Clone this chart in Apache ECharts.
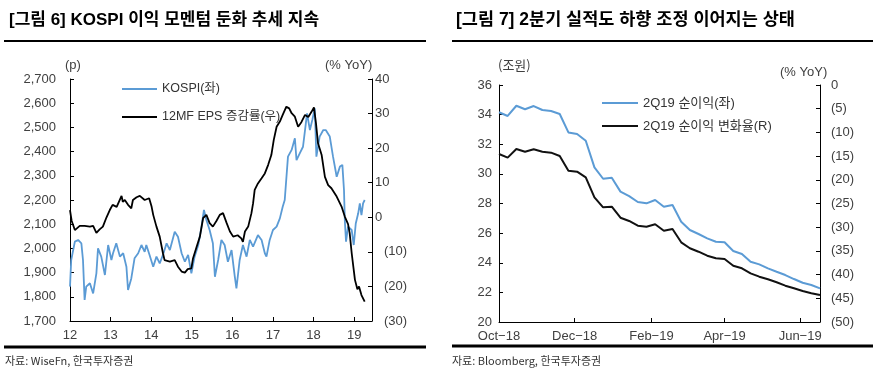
<!DOCTYPE html>
<html>
<head>
<meta charset="utf-8">
<script src="https://cdn.jsdelivr.net/npm/echarts@6/dist/echarts.min.js"></script>
<style>
html,body{margin:0;padding:0;background:#fff;}
#c{width:879px;height:385px;}
</style>
</head>
<body>
<div id="c"></div>
<script>
// ---------- Left chart data (decimal years) ----------
var kospiX = [2012.00,2012.03,2012.12,2012.20,2012.28,2012.32,2012.36,2012.40,2012.49,2012.57,2012.65,2012.69,2012.77,2012.86,2012.94,
2013.02,2013.06,2013.14,2013.23,2013.31,2013.39,2013.43,2013.51,2013.59,2013.68,2013.76,2013.84,2013.88,2013.96,
2014.05,2014.13,2014.21,2014.29,2014.38,2014.46,2014.58,2014.66,2014.75,2014.83,2014.91,2014.99,
2015.07,2015.16,2015.24,2015.30,2015.36,2015.44,2015.52,2015.57,2015.65,2015.73,2015.81,2015.89,2015.98,
2016.06,2016.10,2016.18,2016.26,2016.35,2016.43,2016.51,2016.63,2016.72,2016.80,2016.84,2016.92,
2017.00,2017.09,2017.17,2017.24,2017.29,2017.37,2017.46,2017.54,2017.58,2017.66,2017.74,2017.79,2017.84,2017.91,2017.97,
2018.03,2018.07,2018.15,2018.24,2018.30,2018.40,2018.48,2018.57,2018.65,2018.71,2018.75,2018.77,2018.80,2018.85,2018.94,2018.99,
2019.04,2019.10,2019.14,2019.18,2019.22,2019.26];
var kospiValues = [1842,1952,2028,2035,2021,1952,1787,1842,1856,1814,1897,2000,1966,1890,2014,
1952,1980,2021,1966,1980,1924,1828,1876,1959,1980,2014,1986,2014,1973,
1924,1966,1938,1973,2021,1993,2069,2048,1980,1945,1973,1897,
1966,2014,2090,2159,2117,2076,2021,1883,1952,2035,2014,1945,1993,
1883,1835,1952,2014,1966,2035,2007,2055,2035,1980,1966,2035,
2076,2090,2124,2172,2200,2379,2407,2455,2365,2393,2420,2489,2558,2489,2531,
2579,2379,2462,2489,2489,2462,2379,2296,2338,2345,2241,2117,2028,2090,2076,2014,
2103,2145,2186,2138,2186,2200];

var epsX = [2012.00,2012.04,2012.12,2012.24,2012.36,2012.49,2012.57,2012.65,2012.73,2012.81,2012.90,2012.98,
2013.05,2013.15,2013.27,2013.30,2013.35,2013.43,2013.51,2013.55,2013.64,2013.72,2013.84,2013.95,
2014.01,2014.05,2014.13,2014.21,2014.29,2014.33,2014.46,2014.58,2014.66,2014.75,2014.83,2014.90,2014.99,
2015.03,2015.12,2015.20,2015.28,2015.36,2015.44,2015.52,2015.61,2015.69,2015.77,2015.86,2015.94,
2016.02,2016.13,2016.22,2016.26,2016.31,2016.39,2016.47,2016.51,2016.55,2016.63,2016.72,2016.80,2016.88,2016.96,
2017.02,2017.09,2017.17,2017.24,2017.33,2017.40,2017.46,2017.54,2017.62,2017.70,2017.79,2017.87,2017.95,
2018.01,2018.06,2018.11,2018.20,2018.28,2018.36,2018.44,2018.57,2018.69,2018.77,2018.85,2018.89,2018.94,2018.98,
2019.02,2019.08,2019.12,2019.18,2019.22,2019.26];
var epsValues = [2.1,-1,-3.7,-2.5,-2.5,-2.7,-2.5,-4.5,-3.5,-2.7,0,2.1,
3.6,3.0,6.2,4.5,5,3.6,2.6,5,5.8,6.2,5,5.5,
3.1,0.7,-2.7,-5.6,-10.4,-12.4,-12.8,-12.4,-14.3,-15.7,-16,-15,-14.8,
-11.9,-8.5,-5.6,-0.2,0.7,-1.7,-2.7,-1,0.7,1.2,-1.7,-4.1,
-5.6,-5.2,-6.1,-7.1,-4.1,-2.7,1.2,4.0,7.9,9.8,11.3,12.7,15.1,18,
22.4,26.2,27.7,29.6,32,31.5,30.1,29.1,26.2,27.5,29.6,29,30.5,
31.8,27.2,21.4,18,11.7,9.3,8.4,6,3.1,0.2,-2,-4.6,-10.4,-14.3,
-18.1,-20.8,-20,-22.5,-22.8,-24.4];

var leftYTicks = [1700, 2700, 100];
var rightYTicks = [-30, 40, 10];
var yearTicks = [2012, 2019.44, 1];

// ---------- Right chart data (weekly) ----------
var weekDates = ['2018-10-01','2018-10-08','2018-10-15','2018-10-22','2018-10-29','2018-11-05','2018-11-12','2018-11-19','2018-11-26',
'2018-12-03','2018-12-10','2018-12-17','2018-12-24','2018-12-31','2019-01-07','2019-01-14','2019-01-21','2019-01-28',
'2019-02-04','2019-02-11','2019-02-18','2019-02-25','2019-03-04','2019-03-11','2019-03-18','2019-03-25',
'2019-04-01','2019-04-08','2019-04-15','2019-04-22','2019-04-29','2019-05-06','2019-05-13','2019-05-20','2019-05-27',
'2019-06-03','2019-06-10','2019-06-17'];
var netIncome = [34.16,33.91,34.60,34.36,34.58,34.31,34.24,34.04,32.80,32.69,32.24,30.44,29.67,29.74,28.80,28.50,28.10,28.01,
28.24,27.78,27.90,26.77,26.21,25.94,25.65,25.42,25.38,24.79,24.59,24.07,23.89,23.62,23.39,23.17,22.90,22.65,22.50,22.27];
var netIncomeChg = [-14.56,-15.33,-13.50,-14.07,-13.57,-14.07,-14.28,-14.98,-18.08,-18.29,-19.47,-23.69,-25.80,-25.67,-28.00,-28.69,
-29.68,-29.89,-29.39,-30.74,-30.38,-33.19,-34.45,-35.17,-36.01,-36.56,-36.71,-38.12,-38.67,-39.73,-40.44,-40.99,-41.62,-42.34,
-42.89,-43.46,-43.94,-44.30];
var monthTicks = ['2018-10-01','2018-12-01','2019-02-01','2019-04-01','2019-06-01'];
var monthNames = ['Jan','Feb','Mar','Apr','May','Jun','Jul','Aug','Sep','Oct','Nov','Dec'];

// ---------- build ----------
function pairs(xs, ys){ var out=[]; for(var i=0;i<xs.length;i++) out.push([xs[i], ys[i]]); return out; }
function ts(s){ var p=s.split('-'); return Date.UTC(+p[0], +p[1]-1, +p[2]); }

var BLUE = '#5B9BD5';
var LBL = '#404040';
var FONT = '"Liberation Sans", Arial, "Noto Sans CJK KR", sans-serif';
var TFONT = '"Liberation Sans", "Noto Sans CJK KR", sans-serif';

var axisLineStyle = {show:true, onZero:false, lineStyle:{color:'#000', width:1}};
var tickStyle = {show:true, inside:true, length:4, lineStyle:{color:'#000', width:1}};
var monthTs = monthTicks.map(ts);

var chart = echarts.init(document.getElementById('c'), null, {renderer:'canvas'});
chart.setOption({
  animation:false,
  backgroundColor:'#fff',
  grid:[
    {left:70, top:79, width:302, height:242},
    {left:499, top:85, width:321, height:237}
  ],
  legend:[
    {data:['KOSPI(좌)','12MF EPS 증감률(우)'], orient:'vertical', left:117, top:77, itemWidth:35, itemHeight:2, icon:'rect', itemGap:14,
     textStyle:{fontFamily:FONT, fontSize:12.5, lineHeight:14, color:'#333'}},
    {data:['2Q19 순이익(좌)','2Q19 순이익 변화율(R)'], orient:'vertical', left:597, top:91, itemWidth:36, itemHeight:2, icon:'rect', itemGap:9,
     textStyle:{fontFamily:FONT, fontSize:13, lineHeight:14, color:'#333'}}
  ],
  xAxis:[
    {type:'value', gridIndex:0, min:yearTicks[0], max:yearTicks[1], interval:yearTicks[2],
     axisLine:axisLineStyle, axisTick:tickStyle, splitLine:{show:false},
     axisLabel:{margin:8, fontSize:13, color:LBL, fontFamily:FONT, showMaxLabel:false,
       formatter:function(v){ return Math.abs(v-Math.round(v))<1e-6 ? String(Math.round(v)).slice(2) : ''; }}},
    {type:'value', gridIndex:1, min:ts(weekDates[0]), max:ts(weekDates[weekDates.length-1]),
     axisLine:axisLineStyle, splitLine:{show:false},
     axisTick:{show:true, inside:true, length:4, lineStyle:{color:'#000'}, customValues:monthTs},
     axisLabel:{margin:8, fontSize:13, color:LBL, fontFamily:FONT, hideOverlap:false, customValues:monthTs,
       formatter:function(v){ var d=new Date(v); return monthNames[d.getUTCMonth()]+'\u2212'+String(d.getUTCFullYear()).slice(2); }}}
  ],
  yAxis:[
    {type:'value', gridIndex:0, position:'left', min:leftYTicks[0], max:leftYTicks[1], interval:leftYTicks[2],
     axisLine:axisLineStyle, axisTick:tickStyle, splitLine:{show:false},
     axisLabel:{margin:14, fontSize:13, color:LBL, fontFamily:FONT, formatter:function(v){ return v.toLocaleString('en-US'); }}},
    {type:'value', gridIndex:0, position:'right', min:rightYTicks[0], max:rightYTicks[1], interval:rightYTicks[2],
     axisLine:axisLineStyle, axisTick:tickStyle, splitLine:{show:false},
     axisLabel:{margin:3, fontSize:13, color:LBL, fontFamily:FONT,
       formatter:function(v){ return v<0 ? '{n|('+(-v)+')}' : '{p|'+v+'}'; },
       rich:{n:{padding:[0,0,0,9], fontSize:13, color:LBL, fontFamily:FONT}, p:{fontSize:13, color:LBL, fontFamily:FONT}}}},
    {type:'value', gridIndex:1, position:'left', min:20, max:36, interval:2,
     axisLine:axisLineStyle, axisTick:tickStyle, splitLine:{show:false},
     axisLabel:{margin:7, fontSize:13, color:LBL, fontFamily:FONT}},
    {type:'value', gridIndex:1, position:'right', min:-50, max:0, interval:5,
     axisLine:axisLineStyle, axisTick:tickStyle, splitLine:{show:false},
     axisLabel:{margin:11, fontSize:13, color:LBL, fontFamily:FONT,
       formatter:function(v){ return v<0 ? '('+(-v)+')' : String(v); }}}
  ],
  series:[
    {name:'KOSPI(좌)', type:'line', xAxisIndex:0, yAxisIndex:0, data:pairs(kospiX, kospiValues), showSymbol:false,
     lineStyle:{color:BLUE, width:1.8}, itemStyle:{color:BLUE}},
    {name:'12MF EPS 증감률(우)', type:'line', xAxisIndex:0, yAxisIndex:1, data:pairs(epsX, epsValues), showSymbol:false,
     lineStyle:{color:'#000', width:1.8}, itemStyle:{color:'#000'}},
    {name:'2Q19 순이익(좌)', type:'line', xAxisIndex:1, yAxisIndex:2, data:pairs(weekDates.map(ts), netIncome), showSymbol:false,
     lineStyle:{color:BLUE, width:2}, itemStyle:{color:BLUE}},
    {name:'2Q19 순이익 변화율(R)', type:'line', xAxisIndex:1, yAxisIndex:3, data:pairs(weekDates.map(ts), netIncomeChg), showSymbol:false,
     lineStyle:{color:'#111', width:2}, itemStyle:{color:'#111'}}
  ],
  graphic:[
    {type:'text', x:9, y:20, style:{text:'[그림 6] KOSPI 이익 모멘텀 둔화 추세 지속', font:'bold 17px ' + TFONT, fill:'#000', verticalAlign:'middle'}},
    {type:'text', x:456, y:20, style:{text:'[그림 7] 2분기 실적도 하향 조정 이어지는 상태', font:'bold 17.5px ' + TFONT, fill:'#000', verticalAlign:'middle'}},
    {type:'line', shape:{x1:4, y1:41, x2:426, y2:41}, style:{stroke:'#000', lineWidth:2}},
    {type:'line', shape:{x1:452, y1:41, x2:873, y2:41}, style:{stroke:'#000', lineWidth:2}},
    {type:'line', shape:{x1:4, y1:347, x2:426, y2:347}, style:{stroke:'#000', lineWidth:3}},
    {type:'line', shape:{x1:452, y1:346, x2:873, y2:346}, style:{stroke:'#000', lineWidth:3}},
    {type:'text', x:5, y:361, style:{text:'자료: WiseFn, 한국투자증권', font:'11px "Noto Sans CJK KR"', fill:'#333', verticalAlign:'middle'}},
    {type:'text', x:452, y:361, style:{text:'자료: Bloomberg, 한국투자증권', font:'11px "Noto Sans CJK KR"', fill:'#333', verticalAlign:'middle'}},
    {type:'text', x:65, y:65, style:{text:'(p)', font:'13px "Liberation Sans"', fill:LBL, verticalAlign:'middle'}},
    {type:'text', x:325, y:65, style:{text:'(% YoY)', font:'13px "Liberation Sans"', fill:LBL, verticalAlign:'middle'}},
    {type:'text', x:498, y:65, style:{text:'(조원)', font:'13px "Noto Sans CJK KR"', fill:LBL, verticalAlign:'middle'}},
    {type:'text', x:780, y:72, style:{text:'(% YoY)', font:'13px "Liberation Sans"', fill:LBL, verticalAlign:'middle'}}
  ]
});
</script>
</body>
</html>
